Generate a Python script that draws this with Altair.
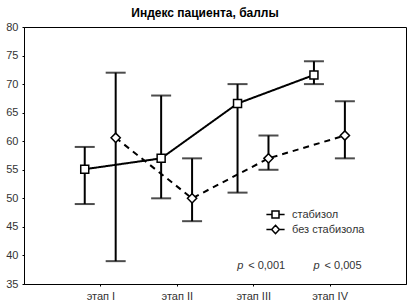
import altair as alt
import pandas as pd

stages = ["этап I", "этап II", "этап III", "этап IV"]
series_names = ["стабизол", "без стабизола"]

stab_mean = [55.1, 57.0, 66.6, 71.6]
stab_low = [49, 50, 51, 70]
stab_high = [59, 68, 70, 74]

nostab_mean = [60.6, 50.0, 57.0, 61.0]
nostab_low = [39, 46, 55, 57]
nostab_high = [72, 57, 61, 67]

p_stage = [3, 4]
p_text = ["< 0,001", "< 0,005"]
title_text = "Индекс пациента, баллы"

rows = []
for i, st in enumerate(stages):
    rows.append(dict(stage=st, idx=i + 1, series=series_names[0],
                     mean=stab_mean[i], lo=stab_low[i], hi=stab_high[i]))
    rows.append(dict(stage=st, idx=i + 1, series=series_names[1],
                     mean=nostab_mean[i], lo=nostab_low[i], hi=nostab_high[i]))
df = pd.DataFrame(rows)
pdf = pd.DataFrame({"idx": p_stage, "txt": p_text})

FONT = "Liberation Sans"
label_expr = "[" + ",".join(["''"] + ["'" + s + "'" for s in stages]) + "][datum.value]"

xscale = alt.Scale(domain=[0, 5], nice=False, zero=False)
xaxis = alt.Axis(values=[1, 2, 3, 4], labelExpr=label_expr, title=None, grid=False,
                 tickSize=2, labelPadding=4)
yscale = alt.Scale(domain=[35, 80], nice=False, zero=False)
yaxis = alt.Axis(values=list(range(35, 81, 5)), title=None, grid=False,
                 tickSize=2, labelPadding=4)

base = alt.Chart(df).transform_calculate(
    xpos="datum.idx + (datum.series == 'стабизол' ? -0.205 : 0.2)"
)
X = alt.X("xpos:Q", scale=xscale, axis=xaxis)

def Y(f):
    return alt.Y(f, scale=yscale, axis=yaxis)

rules = base.mark_rule(strokeWidth=2, color="black").encode(x=X, y=Y("lo:Q"), y2="hi:Q")
caps_lo = base.mark_tick(orient="horizontal", size=20, thickness=2, color="black").encode(x=X, y=Y("lo:Q"))
caps_hi = base.mark_tick(orient="horizontal", size=20, thickness=2, color="black").encode(x=X, y=Y("hi:Q"))

lines = base.mark_line(strokeWidth=2, color="black").encode(
    x=X, y=Y("mean:Q"),
    strokeDash=alt.StrokeDash("series:N", scale=alt.Scale(domain=series_names, range=[[1, 0], [6, 5]]), legend=None),
    detail="series:N",
)

points = base.mark_point(filled=True, fill="white", stroke="black", strokeWidth=1.5, opacity=1).encode(
    x=X, y=Y("mean:Q"),
    shape=alt.Shape("series:N", scale=alt.Scale(domain=series_names, range=["square", "diamond"]), legend=None),
    size=alt.Size("series:N", scale=alt.Scale(domain=series_names, range=[64, 85]), legend=None),
)

sq_path = "M-2.6,0H-1M1,0H2.6M-1,-1H1V1H-1Z"
di_path = "M-2.6,0H-1.1M1.1,0H2.6M0,-1.2L1.1,0L0,1.2L-1.1,0Z"
legend_layer = base.transform_filter("false").mark_point(
    filled=False, color="black", strokeWidth=1.5, opacity=1
).encode(
    x=X, y=Y("mean:Q"),
    shape=alt.Shape("series:N", scale=alt.Scale(domain=series_names, range=[sq_path, di_path]),
                    legend=alt.Legend(title=None, orient="none", legendX=246, legendY=182,
                                      symbolSize=49, symbolOpacity=1,
                                      symbolStrokeColor="black", symbolStrokeWidth=1.5,
                                      labelOffset=11, labelFontSize=11, labelFont=FONT,
                                      labelColor="#333", rowPadding=1)),
)

ptxt = alt.Chart(pdf).mark_text(fontStyle="italic", align="left", baseline="alphabetic",
                                dx=-16, fontSize=11, font=FONT, color="#333").encode(
    x=alt.X("idx:Q", scale=xscale, axis=xaxis), y=alt.value(242), text=alt.value("p"))
ltxt = alt.Chart(pdf).mark_text(align="left", baseline="alphabetic",
                                dx=-5, fontSize=11, font=FONT, color="#333").encode(
    x=alt.X("idx:Q", scale=xscale, axis=xaxis), y=alt.value(242), text="txt:N")

title = alt.Chart(pd.DataFrame({"t": [title_text]})).mark_text(
    align="center", baseline="alphabetic", fontSize=12, fontWeight="bold", font=FONT, color="black"
).encode(x=alt.value(181), y=alt.value(-10), text="t:N")

chart = alt.layer(rules, caps_lo, caps_hi, lines, points, legend_layer, ptxt, ltxt, title).resolve_scale(
    shape="independent", size="independent", strokeDash="independent"
).properties(
    width=382, height=257,
    padding={"left": 24, "top": 27, "right": 6, "bottom": 24},
    autosize=alt.AutoSizeParams(type="none"),
).configure_view(stroke="black", strokeWidth=1).configure_axis(
    domainColor="black", tickColor="black", labelColor="#333", labelFont=FONT, labelFontSize=11,
    domainWidth=1,
)

chart.save("out.html", embed_options={"renderer": "svg", "actions": False})
